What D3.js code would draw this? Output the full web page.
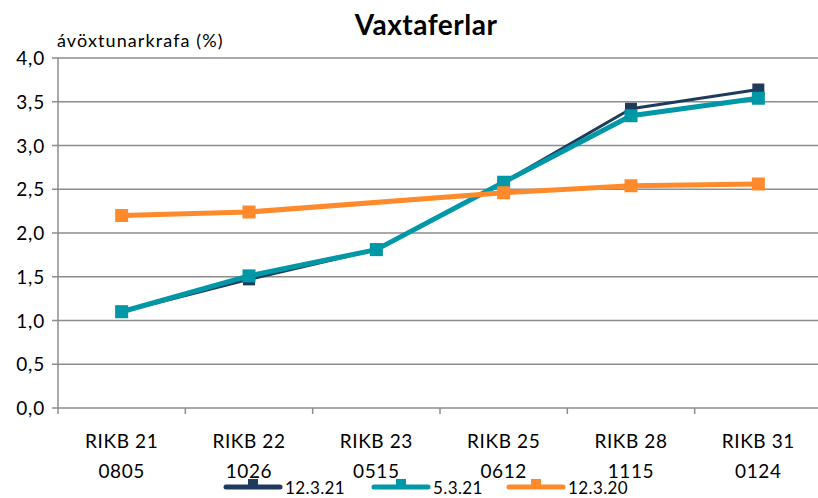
<!DOCTYPE html>
<html>
<head>
<meta charset="utf-8">
<script src="https://cdn.jsdelivr.net/npm/d3@7"></script>
<style>
  body { margin: 0; background: #fff; }
  svg { font-family: Lato, "Open Sans", sans-serif; }
</style>
</head>
<body>
<svg id="chart" width="818" height="498"></svg>
<script>
// Categories (two-line labels)
const categories = ["RIKB 21|0805", "RIKB 22|1026", "RIKB 23|0515", "RIKB 25|0612", "RIKB 28|1115", "RIKB 31|0124"];

// Series values (null = no point)
const values_12_3_21 = [1.10, 1.47, 1.81, 2.58, 3.42, 3.64];
const values_5_3_21 = [1.10, 1.51, 1.81, 2.58, 3.34, 3.54];
const values_12_3_20 = [2.20, 2.24, null, 2.46, 2.54, 2.56];

const yTicks = [0, 0.5, 1, 1.5, 2, 2.5, 3, 3.5, 4];

const series = [
    { name: "12.3.21", values: values_12_3_21, color: "#1f3b5c", width: 3, size: 12 },
    { name: "5.3.21", values: values_5_3_21, color: "#0097a7", width: 5, size: 13 },
    { name: "12.3.20", values: values_12_3_20, color: "#ff8a2b", width: 5, size: 13 }
];

const svg = d3.select("#chart");
const plotLeft = 58, plotRight = 822, plotTop = 58, plotBottom = 408;

const x = d3.scaleBand().domain(categories).range([plotLeft, plotRight]);
const y = d3.scaleLinear().domain([0, 4]).range([plotBottom, plotTop]);

// Gridlines
svg.append("g")
    .selectAll("line")
    .data(yTicks)
    .enter().append("line")
    .attr("x1", plotLeft - 6)
    .attr("x2", 818)
    .attr("y1", d => y(d))
    .attr("y2", d => y(d))
    .attr("stroke", "#8c8c8c")
    .attr("stroke-width", 1.5);

// Y axis line
svg.append("line")
    .attr("x1", plotLeft).attr("x2", plotLeft)
    .attr("y1", plotTop).attr("y2", plotBottom + 6)
    .attr("stroke", "#8c8c8c").attr("stroke-width", 1.5);

// X tick marks at category boundaries
svg.append("g")
    .selectAll("line")
    .data(categories.slice(1))
    .enter().append("line")
    .attr("x1", d => x(d)).attr("x2", d => x(d))
    .attr("y1", plotBottom).attr("y2", plotBottom + 6)
    .attr("stroke", "#8c8c8c").attr("stroke-width", 1.5);

// Y tick labels
svg.append("g")
    .selectAll("text")
    .data(yTicks)
    .enter().append("text")
    .attr("x", 45)
    .attr("y", d => y(d) + 7)
    .attr("text-anchor", "end")
    .attr("font-size", 19)
    .attr("letter-spacing", 0.8)
    .attr("fill", "#000")
    .text(d => d.toFixed(1).replace(".", ","));

// X labels
const xl = svg.append("g")
    .selectAll("text")
    .data(categories)
    .enter().append("text")
    .attr("text-anchor", "middle")
    .attr("font-size", 19)
    .attr("letter-spacing", 0.6)
    .attr("fill", "#000");
xl.append("tspan")
    .attr("x", d => x(d) + x.bandwidth() / 2)
    .attr("y", 448)
    .text(d => d.split("|")[0]);
xl.append("tspan")
    .attr("x", d => x(d) + x.bandwidth() / 2)
    .attr("y", 478)
    .text(d => d.split("|")[1]);

// Title and y label
svg.append("text")
    .attr("x", 426).attr("y", 35)
    .attr("text-anchor", "middle")
    .attr("font-size", 28).attr("font-weight", "bold")
    .attr("letter-spacing", 0.5)
    .text("Vaxtaferlar");

svg.append("text")
    .attr("x", 57).attr("y", 47)
    .attr("font-size", 18)
    .attr("letter-spacing", 1.1)
    .text("ávöxtunarkrafa (%)");

// Lines and markers
const line = d3.line()
    .x(d => x(d.cat) + x.bandwidth() / 2)
    .y(d => y(d.v));

series.forEach(s => {
    const pts = categories.map((c, i) => ({ cat: c, v: s.values[i] })).filter(d => d.v != null);
    svg.append("path")
        .datum(pts)
        .attr("d", line)
        .attr("fill", "none")
        .attr("stroke", s.color)
        .attr("stroke-width", s.width)
        .attr("stroke-linejoin", "round");
    svg.append("g")
        .selectAll("rect")
        .data(pts)
        .enter().append("rect")
        .attr("x", d => x(d.cat) + x.bandwidth() / 2 - s.size / 2)
        .attr("y", d => y(d.v) - s.size / 2)
        .attr("width", s.size)
        .attr("height", s.size)
        .attr("fill", s.color);
});

// Legend
const legendX = [226, 374, 509];
const legend = svg.append("g")
    .selectAll("g")
    .data(series)
    .enter().append("g")
    .attr("transform", (d, i) => `translate(${legendX[i]},487)`);
legend.append("line")
    .attr("x1", 0).attr("x2", 54)
    .attr("stroke", d => d.color)
    .attr("stroke-width", 5)
    .attr("stroke-linecap", "round");
legend.append("rect")
    .attr("x", 22).attr("y", -8)
    .attr("width", 10).attr("height", 10)
    .attr("fill", d => d.color);
legend.append("text")
    .attr("x", 59).attr("y", 7)
    .attr("font-size", 17)
    .attr("letter-spacing", 0.4)
    .text(d => d.name);
</script>
</body>
</html>
